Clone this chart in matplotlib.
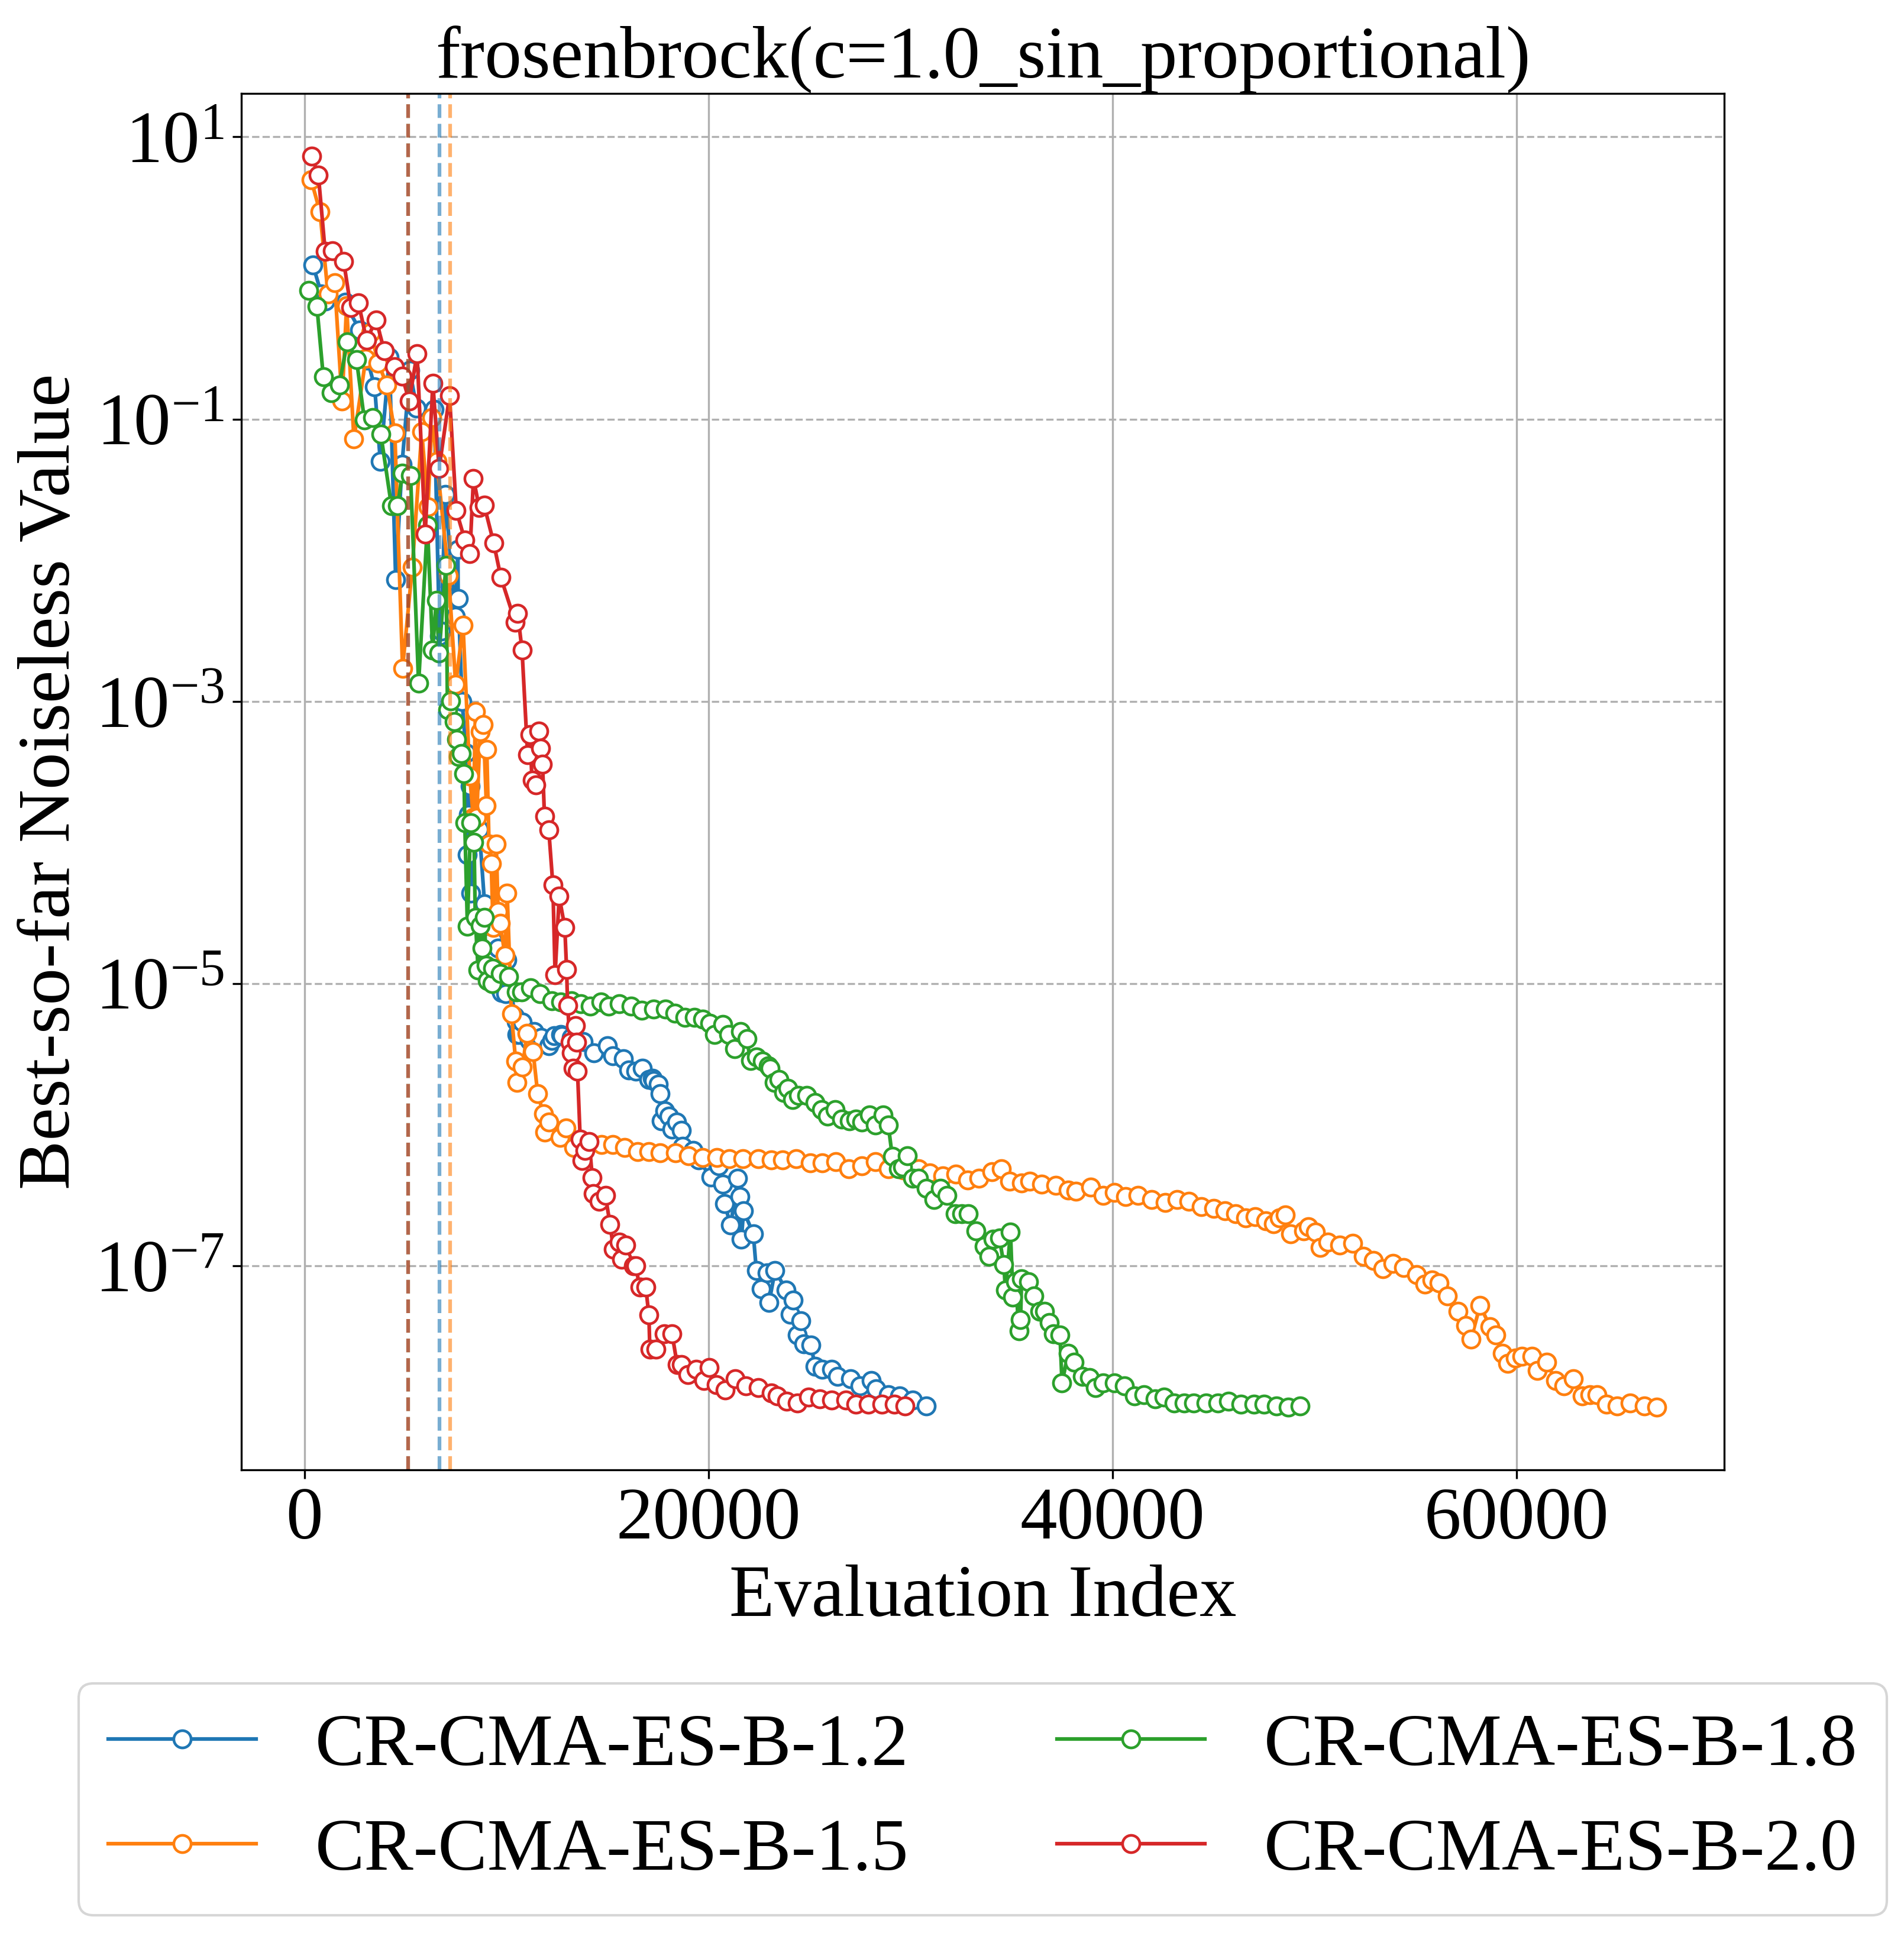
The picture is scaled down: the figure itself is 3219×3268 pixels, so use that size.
#!/usr/bin/env python3
# -*- coding: utf-8 -*-

"""
plot.py

Best-so-far noiseless value vs evaluation index, four CR-CMA-ES-B variants.
"""

import numpy as np
import matplotlib
matplotlib.use("Agg")
import matplotlib.pyplot as plt

# ---- data (x = evaluation index, y as log10) ----
blue_x = [427, 846, 1042, 2020, 2080, 2740, 3130, 3480, 3760, 4210, 4520, 4835, 5220, 5560, 6430,
          6688, 6764, 6980, 7470, 7600, 7613, 7810, 8000, 8050, 8130, 8201, 8230, 8460, 8660, 8920,
          9310, 9585, 9700, 9770, 9970, 10030, 10420, 10490, 10520, 10650, 10800, 11140, 11360, 11660,
          11730, 12100, 12250, 12380, 12700, 12760, 13220, 13790, 14340, 15000, 15280, 15800, 16060,
          16400, 16730, 17050, 17240, 17300, 17520, 17600, 17680, 17830, 18050, 18200, 18420, 18650,
          18720, 19240, 19500, 20130, 20500, 20700, 20800, 21100, 21450, 21560, 21630, 21740, 22220,
          22370, 22600, 22900, 23000, 23300, 23840, 24050, 24200, 24400, 24580, 24710, 25080, 25270,
          25640, 26100, 26400, 27030, 27500, 28060, 28300, 28900, 29460, 30100, 30770]
blue_log = [0.091, -0.114, -0.162, -0.174, -0.198, -0.367, -0.583, -0.771, -1.30, -0.562, -2.136, -1.32,
            -0.655, -0.92, -0.93, -2.534, -2.50, -1.535, -2.398, -1.925, -2.27, -3.0, -3.366, -4.087,
            -3.80, -3.601, -4.357, -3.83, -3.907, -4.435, -4.689, -4.75, -5.04, -5.062, -5.07, -4.833,
            -5.23, -5.266, -5.36, -5.36, -5.27, -5.40, -5.34, -5.41, -5.38, -5.44, -5.40, -5.37, -5.36,
            -5.37, -5.38, -5.41, -5.49, -5.44, -5.51, -5.53, -5.61, -5.62, -5.60, -5.68, -5.67, -5.685,
            -5.71, -5.78, -5.97, -5.90, -5.94, -6.03, -5.98, -6.04, -6.15, -6.18, -6.25, -6.37, -6.29,
            -6.42, -6.56, -6.71, -6.38, -6.51, -6.81, -6.61, -6.77, -7.03, -7.16, -7.05, -7.26, -7.03,
            -7.17, -7.34, -7.24, -7.49, -7.39, -7.55, -7.56, -7.71, -7.73, -7.73, -7.78, -7.80, -7.85,
            -7.81, -7.87, -7.91, -7.92, -7.95, -7.99]

orange_x = [336, 773, 1171, 1500, 1866, 2090, 2453, 3041, 3302, 3654, 4086, 4479, 4861, 5343, 5811,
            6120, 6320, 6560, 7140, 7490, 7855, 8188, 8360, 8470, 8530, 8700, 8860, 9010, 9030, 9140,
            9250, 9340, 9500, 9590, 9690, 9930, 10040, 10250, 10460, 10520, 10800, 11020, 11320, 11550,
            11830, 11900, 12100, 12660, 12950, 13320, 13970, 14720, 15270, 15840, 16490, 17050, 17600,
            18360, 19000, 19720, 20410, 21030, 21720, 22460, 23120, 23680, 24330, 25030, 25640, 26300,
            26950, 27600, 28250, 28900, 29650, 30400, 30960, 31610, 32260, 32820, 33380, 34040, 34500,
            34900, 35500, 35900, 36500, 37200, 37800, 38200, 38930, 39530, 40100, 40650, 41250, 41930,
            42600, 43200, 43780, 44390, 45000, 45580, 46090, 46580, 47070, 47600, 47970, 48260, 48550,
            48820, 49450, 49680, 50050, 50280, 50660, 51250, 51900, 52420, 52920, 53370, 53890, 54410,
            55050, 55460, 55800, 56160, 56570, 57100, 57470, 57740, 58190, 58690, 58960, 59290, 59560,
            59930, 60270, 60750, 61020, 61480, 61920, 62330, 62800, 63240, 63620, 63980, 64460, 64980,
            65630, 66320, 66940]
orange_log = [0.695, 0.469, -0.114, -0.035, -0.872, -0.198, -1.14, -0.571, -0.386, -0.602, -0.757, -1.10,
              -2.765, -2.05, -1.09, -1.62, -0.99, -1.30, -2.11, -2.88, -2.46, -3.53, -3.82, -3.07, -3.82,
              -3.215, -3.165, -3.74, -3.34, -4.01, -4.15, -4.60, -4.01, -4.49, -4.57, -4.80, -4.36,
              -5.215, -5.55, -5.70, -5.59, -5.35, -5.48, -5.78, -5.92, -6.05, -5.98, -6.09, -6.02, -6.16,
              -6.14, -6.14, -6.14, -6.16, -6.19, -6.19, -6.20, -6.20, -6.22, -6.23, -6.23, -6.24, -6.24,
              -6.24, -6.25, -6.25, -6.24, -6.27, -6.27, -6.26, -6.31, -6.29, -6.26, -6.31, -6.32, -6.31,
              -6.34, -6.36, -6.35, -6.39, -6.38, -6.33, -6.31, -6.40, -6.41, -6.40, -6.42, -6.43, -6.46,
              -6.47, -6.44, -6.50, -6.48, -6.51, -6.50, -6.53, -6.55, -6.53, -6.54, -6.58, -6.59, -6.61,
              -6.63, -6.66, -6.65, -6.68, -6.70, -6.66, -6.64, -6.77, -6.75, -6.72, -6.76, -6.87, -6.83,
              -6.85, -6.84, -6.93, -6.96, -7.02, -6.98, -7.01, -7.06, -7.13, -7.10, -7.12, -7.21, -7.32,
              -7.42, -7.52, -7.28, -7.43, -7.49, -7.62, -7.69, -7.65, -7.64, -7.64, -7.74, -7.68, -7.81,
              -7.85, -7.80, -7.92, -7.91, -7.91, -7.98, -7.99, -7.97, -7.99, -8.00]

green_x = [216, 623, 937, 1341, 1733, 2125, 2582, 2970, 3390, 3785, 4310, 4620, 4850, 5255, 5655,
           6090, 6350, 6530, 6668, 7010, 7085, 7240, 7415, 7524, 7620, 7770, 7900, 7940, 8070, 8230,
           8400, 8460, 8600, 8720, 8790, 8920, 8990, 9050, 9300, 9310, 9700, 10100, 10500, 10750, 11200,
           11660, 12250, 12700, 13230, 13690, 14150, 14670, 15060, 15590, 16170, 16700, 17280, 17870,
           18350, 18830, 19320, 19720, 20060, 20300, 20700, 21000, 21300, 21600, 21900, 22080, 22380,
           22670, 22970, 23050, 23270, 23490, 23720, 23940, 24170, 24470, 24880, 25280, 25600, 25890,
           26260, 26600, 26980, 27300, 27600, 27970, 28270, 28650, 28900, 29100, 29400, 29600, 29850,
           30100, 30400, 30770, 31150, 31480, 31800, 32230, 32530, 32860, 33250, 33650, 33880, 34100,
           34400, 34620, 34700, 34950, 35070, 35200, 35370, 35450, 35500, 35850, 36100, 36410, 36640,
           36860, 37070, 37400, 37500, 37800, 38100, 38500, 38860, 39150, 39530, 40100, 40580, 41100,
           41550, 42100, 42550, 43050, 43560, 44000, 44620, 45200, 45740, 46360, 46990, 47500, 48100,
           48710, 49270]
green_log = [-0.09, -0.203, -0.699, -0.812, -0.757, -0.451, -0.578, -1.004, -0.99, -1.106, -1.615, -1.615,
             -1.383, -1.40, -2.872, -1.75, -2.634, -2.285, -2.658, -2.036, -3.06, -2.995, -3.142, -3.27,
             -3.39, -3.37, -3.51, -3.86, -4.593, -3.86, -3.996, -4.53, -4.905, -4.59, -4.749, -4.53,
             -4.87, -4.98, -5.0, -4.89, -4.93, -4.95, -5.06, -5.06, -5.03, -5.07, -5.12, -5.13, -5.12,
             -5.14, -5.158, -5.13, -5.16, -5.14, -5.16, -5.19, -5.18, -5.18, -5.21, -5.24, -5.24, -5.25,
             -5.28, -5.36, -5.29, -5.36, -5.46, -5.34, -5.39, -5.546, -5.52, -5.55, -5.58, -5.60, -5.70,
             -5.68, -5.77, -5.74, -5.82, -5.79, -5.79, -5.84, -5.89, -5.94, -5.89, -5.96, -5.97, -5.96,
             -5.98, -5.93, -6.0, -5.93, -6.0, -6.224, -6.31, -6.30, -6.22, -6.38, -6.38, -6.45, -6.53,
             -6.45, -6.50, -6.63, -6.63, -6.63, -6.75, -6.86, -6.93, -6.81, -6.80, -6.99, -7.17, -6.76,
             -7.22, -7.11, -7.46, -7.38, -7.09, -7.11, -7.21, -7.32, -7.32, -7.40, -7.48, -7.49, -7.829,
             -7.62, -7.68, -7.78, -7.79, -7.86, -7.83, -7.83, -7.85, -7.92, -7.91, -7.94, -7.93, -7.97,
             -7.97, -7.97, -7.97, -7.97, -7.96, -7.98, -7.98, -7.98, -7.99, -8.0, -7.99]

red_x = [358, 694, 1030, 1400, 1949, 2296, 2677, 3080, 3550, 3954, 4458, 4838, 5190, 5580, 5980,
         6360, 6670, 7185, 7520, 7940, 8195, 8370, 8650, 8900, 9370, 9725, 10440, 10560, 10775, 11050,
         11160, 11270, 11450, 11610, 11700, 11790, 11885, 12098, 12300, 12411, 12613, 12890, 12980,
         13030, 13150, 13220, 13300, 13430, 13470, 13520, 13654, 13750, 13900, 14102, 14252, 14300,
         14600, 14900, 15129, 15300, 15600, 15700, 15900, 16300, 16400, 16600, 16900, 17052, 17100,
         17400, 17800, 18200, 18452, 18670, 18980, 19400, 19770, 20050, 20400, 20840, 21340, 21850,
         22460, 23100, 23400, 23870, 24400, 24950, 25500, 26100, 26800, 27300, 27900, 28600, 29200,
         29740]
red_log = [0.862, 0.731, 0.188, 0.192, 0.116, -0.208, -0.176, -0.44, -0.296, -0.514, -0.63, -0.697,
           -0.87, -0.536, -1.816, -0.745, -1.35, -0.833, -1.648, -1.855, -1.952, -1.42, -1.625, -1.61,
           -1.877, -2.12, -2.44, -2.377, -2.637, -3.378, -3.236, -3.558, -3.59, -3.212, -3.331, -3.446,
           -3.815, -3.911, -4.30, -4.936, -4.381, -4.60, -4.90, -5.154, -5.414, -5.488, -5.599, -5.295,
           -5.414, -5.62, -6.102, -6.253, -6.181, -6.12, -6.374, -6.487, -6.54, -6.50, -6.703, -6.879,
           -6.83, -6.951, -6.85, -7.0, -7.0, -7.15, -7.15, -7.348, -7.588, -7.588, -7.48, -7.48, -7.697,
           -7.70, -7.77, -7.73, -7.81, -7.72, -7.84, -7.88, -7.80, -7.85, -7.86, -7.90, -7.92, -7.96,
           -7.97, -7.93, -7.94, -7.95, -7.95, -7.98, -7.98, -7.98, -7.98, -7.99]

labels = ["CR-CMA-ES-B-1.2", "CR-CMA-ES-B-1.5", "CR-CMA-ES-B-1.8", "CR-CMA-ES-B-2.0"]
colors = ["tab:blue", "tab:orange", "tab:green", "tab:red"]
vline_x = [6690, 7210, 5130, 5130]   # dashed markers, one per variant

xs = [blue_x, orange_x, green_x, red_x]
logs = [blue_log, orange_log, green_log, red_log]

plt.rcParams["font.family"] = ["Liberation Serif", "DejaVu Serif"]
plt.rcParams["mathtext.fontset"] = "stix"
plt.rcParams["font.size"] = 30

fig = plt.figure(figsize=(3220 / 300, 3268 / 300), dpi=300)
ax = fig.add_axes([0.1267, 0.2396, 0.9053 - 0.1267, 0.9517 - 0.2396])

for x, lg, c, lab in zip(xs, logs, colors, labels):
    ax.plot(x, 10.0 ** np.array(lg), color=c, marker="o", markerfacecolor="white",
            markersize=7, markeredgewidth=1.1, linewidth=1.5, label=lab)

for vx, c in zip(vline_x, colors):
    ax.axvline(vx, color=c, linestyle="--", linewidth=1.5, alpha=0.6)

ax.set_yscale("log")
ax.set_xlim(-3120, 70276)
ax.set_ylim(10 ** -8.444, 10 ** 1.308)
ax.set_xticks([0, 20000, 40000, 60000])
ax.grid(True, axis="x", which="major")
ax.grid(True, axis="y", which="major", linestyle="--")
ax.tick_params(labelsize=30)

ax.set_title("frosenbrock(c=1.0_sin_proportional)", fontsize=30)
ax.set_xlabel("Evaluation Index", fontsize=30)
ax.set_ylabel("Best-so-far Noiseless Value", fontsize=30)

fig.legend(loc="upper center", bbox_to_anchor=(0.516, 0.1291), ncol=2, fontsize=30,
           borderaxespad=0)

fig.savefig("out.png", dpi=300)
plt.close(fig)
